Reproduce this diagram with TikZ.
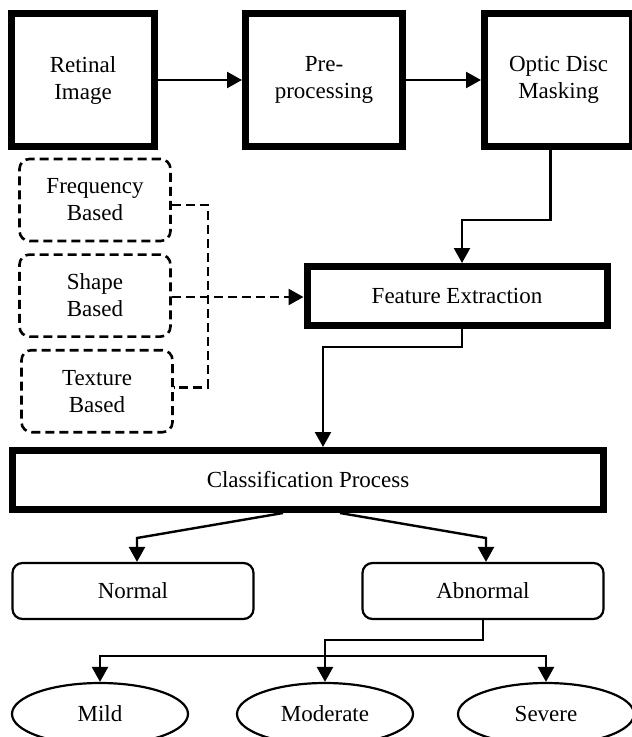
\documentclass[tikz,border=0pt]{standalone}
\usepackage{fontspec}
\setmainfont{Liberation Serif}
\usetikzlibrary{positioning,arrows.meta,shapes.geometric}

\begin{document}
\begin{tikzpicture}[
    x=1pt, y=-1pt,
    font=\fontsize{23}{27}\selectfont,
    stage/.style={draw, line width=7pt, align=center, inner sep=2pt},
    feat/.style={draw, line width=2.6pt, dash pattern=on 9pt off 5pt,
      rounded corners=10pt, align=center, minimum width=151pt, minimum height=82pt},
    outc/.style={draw, line width=2.2pt, rounded corners=10pt,
      minimum width=241pt, minimum height=56pt},
    grade/.style={ellipse, draw, line width=2.2pt, minimum width=176pt, minimum height=62pt},
    link/.style={-{Triangle[length=15pt,width=16pt]}, line width=2.4pt},
    dline/.style={line width=2.6pt, dash pattern=on 9pt off 5pt},
    dlink/.style={link, line width=2.6pt, dash pattern=on 9pt off 5pt},
  ]
  \useasboundingbox (0,0) rectangle (632,737);

  % acquisition chain
  \node[stage, minimum width=143pt, minimum height=133pt] (ret) at (83,80) {Retinal\\Image};
  \node[stage, minimum width=157pt, minimum height=133pt, right=84pt of ret] (pre) {Pre-\\processing};
  \node[stage, minimum width=148pt, minimum height=133pt, right=75pt of pre] (opt) {Optic Disc\\Masking};

  % feature types
  \node[feat] (freq) at (95,200) {Frequency\\Based};
  \node[feat, below=11pt of freq] (shape) {Shape\\Based};
  \node[feat, below=11pt of shape, xshift=2pt] (tex) {Texture\\Based};

  \node[stage, minimum width=300pt, minimum height=59pt] (fe) at (457,296) {Feature Extraction};
  \node[stage, minimum width=591pt, minimum height=59pt] (cls) at (308,480) {Classification Process};

  % outcomes
  \node[outc] (norm) at (133,591) {Normal};
  \node[outc] (abn) at (483,591) {Abnormal};
  \node[grade] (mild) at (100,714) {Mild};
  \node[grade] (mod) at (325,714) {Moderate};
  \node[grade] (sev) at (546,714) {Severe};

  \coordinate (bendA) at (462,220);
  \coordinate (dashbus) at (208,297);
  \coordinate (bendB) at (323,347);
  \coordinate (splitL) at (137,538);
  \coordinate (splitR) at (486,538);
  \coordinate (bendC) at (325,640);
  \coordinate (busL) at (100,656);

  \draw[link] (ret) -- (pre);
  \draw[link] (pre) -- (opt);
  \draw[link] ([xshift=-8pt]opt.south) |- (bendA) -- (bendA |- fe.north);
  \draw[dline] ([yshift=-5pt]freq.east) -| (dashbus) |- ([yshift=4pt]tex.east);
  \draw[dlink] (shape.east |- dashbus) -- (fe.west |- dashbus);
  \draw[link] ([xshift=5pt]fe.south) |- (bendB) -- (bendB |- cls.north);
  \draw[link] ([xshift=-25pt]cls.south) -- (splitL) -- (splitL |- norm.north);
  \draw[link] ([xshift=32pt]cls.south) -- (splitR) -- (splitR |- abn.north);
  \draw[link] (abn.south) |- (bendC) -- (mod.north);
  \draw[link] (bendC |- busL) -| (mild.north);
  \draw[link] (bendC |- busL) -| (sev.north);
\end{tikzpicture}
\end{document}
